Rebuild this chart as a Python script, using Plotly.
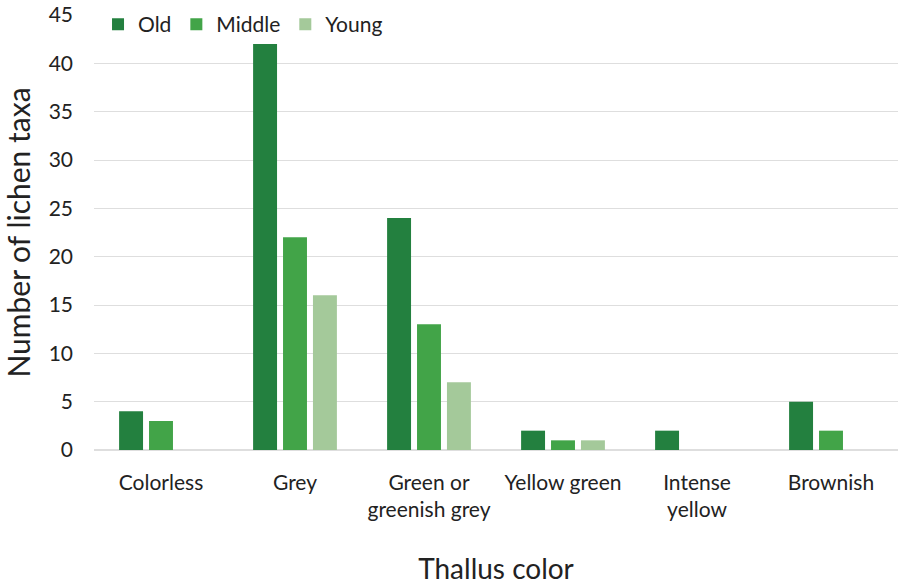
import plotly.graph_objects as go

categories = ["Colorless", "Grey", "Green or<br>greenish grey", "Yellow green", "Intense<br>yellow", "Brownish"]
old = [4, 42, 24, 2, 2, 5]
middle = [3, 22, 13, 1, 0, 2]
young = [0, 16, 7, 1, 0, 0]

series = [("Old", old, "#23803f"), ("Middle", middle, "#42a448"), ("Young", young, "#a4c99a")]

fig = go.Figure()
for name, vals, color in series:
    fig.add_trace(go.Bar(name=name, x=categories, y=vals, marker_color=color, marker_line_width=0))

font_family = "Lato, 'Open Sans', sans-serif"
fig.update_layout(
    width=898, height=585,
    margin=dict(l=94, r=0, t=15, b=135),
    plot_bgcolor="white", paper_bgcolor="white",
    barmode="group", bargap=0.33, bargroupgap=0.2,
    font=dict(family=font_family, color="#222222", size=21),
    legend=dict(orientation="h", x=0.005, y=1.025, xanchor="left", yanchor="top",
                font=dict(size=21), bgcolor="rgba(0,0,0,0)", itemwidth=30, traceorder="normal"),
    xaxis=dict(title=dict(text="Thallus color", font=dict(size=28), standoff=40),
               tickfont=dict(size=21), showgrid=False, ticks="", showline=False,
               ticklabelstandoff=18),
    yaxis=dict(title=dict(text="Number of lichen taxa", font=dict(size=30), standoff=12),
               range=[0, 45], dtick=5, tickfont=dict(size=21),
               gridcolor="#dedede", gridwidth=1, zeroline=True, zerolinecolor="#dedede",
               showline=False, ticks="", ticklabelstandoff=20),
)
fig.write_html("out.html")
